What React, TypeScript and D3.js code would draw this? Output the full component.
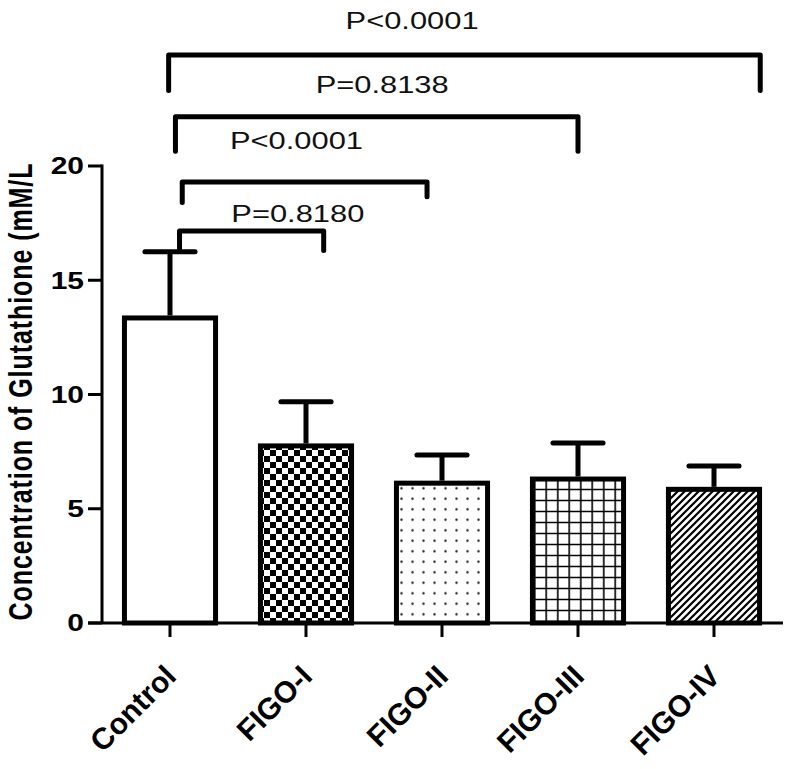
import React from 'react';
import * as d3 from 'd3';

const categories = ['Control', 'FIGO-I', 'FIGO-II', 'FIGO-III', 'FIGO-IV'];
const means = [13.35, 7.75, 6.12, 6.3, 5.85];
const sds = [2.9, 1.93, 1.23, 1.58, 1.02];
const fills = ['white', 'url(#checker)', 'url(#dots)', 'url(#grid)', 'url(#hatch)'];
const yTicks = [0, 5, 10, 15, 20];
const yLabel = 'Concentration of Glutathione (mM/L';

// significance brackets (category index + offset in band steps, levels in data units)
const bracketFrom = [0, 0, 0, 0];
const bracketTo = [1, 2, 3, 4];
const bracketFromOffset = [0.07, 0.09, 0.04, -0.01];
const bracketToOffset = [0.13, -0.11, 0, 0.34];
const bracketLevel = [17.15, 19.3, 22.15, 24.86];
const bracketDropFrom = [16.4, 18.4, 20.65, 23.3];
const bracketDropTo = [16.3, 18.65, 20.65, 23.3];
const bracketLabels = ['P=0.8180', 'P<0.0001', 'P=0.8138', 'P<0.0001'];
const bracketLabelPos = [0.94, 0.93, 1.56, 1.78];
const bracketLabelLevel = [17.9, 21.12, 23.54, 26.35];

const W = 791;
const H = 769;

export default function App() {
  const x = d3.scaleBand<string>().domain(categories).range([102, 782]).paddingInner(0.33).paddingOuter(0.165);
  const y = d3.scaleLinear().domain([0, 20]).range([623, 166]);
  const step = x.step();
  const bw = x.bandwidth();
  const cx = (i: number) => (x(categories[i]) as number) + bw / 2;
  const fx = (v: number) => cx(0) + v * step;
  const font = '"Liberation Sans", Arial, sans-serif';

  return (
    <svg width={W} height={H} style={{ position: 'absolute', left: 0, top: 0, background: 'white' }} fontFamily={font}>
      <defs>
        <pattern id="checker" width={12} height={12} patternUnits="userSpaceOnUse">
          <rect width={12} height={12} fill="white" />
          <rect x={0} y={0} width={6} height={6} fill="black" />
          <rect x={6} y={6} width={6} height={6} fill="black" />
        </pattern>
        <pattern id="dots" width={11} height={10.5} patternUnits="userSpaceOnUse">
          <rect width={11} height={10.5} fill="white" />
          <circle cx={5.5} cy={5.25} r={1.2} fill="#222" />
        </pattern>
        <pattern id="grid" width={11.5} height={11} patternUnits="userSpaceOnUse">
          <rect width={11.5} height={11} fill="white" />
          <path d="M5.75,0 V11 M0,5.5 H11.5" stroke="black" strokeWidth={1.6} />
        </pattern>
        <pattern id="hatch" width={7} height={7} patternUnits="userSpaceOnUse">
          <rect width={7} height={7} fill="white" />
          <path d="M-1,1 L1,-1 M0,7 L7,0 M6,8 L8,6" stroke="black" strokeWidth={2.2} />
        </pattern>
      </defs>

      {/* bars */}
      {categories.map((c, i) => (
        <rect key={c} x={x(c)} y={y(means[i])} width={bw} height={y(0) - y(means[i])}
          fill={fills[i]} stroke="black" strokeWidth={5} />
      ))}

      {/* error bars */}
      {categories.map((c, i) => (
        <g key={'e' + c} stroke="black" strokeWidth={5} strokeLinecap="round">
          <line x1={cx(i)} x2={cx(i)} y1={y(means[i]) - 2.5} y2={y(means[i] + sds[i])} strokeLinecap="butt" />
          <line x1={cx(i) - bw * 0.275} x2={cx(i) + bw * 0.275} y1={y(means[i] + sds[i])} y2={y(means[i] + sds[i])} />
        </g>
      ))}

      {/* axes */}
      <line x1={88} x2={783} y1={y(0)} y2={y(0)} stroke="black" strokeWidth={3} />
      <line x1={102} x2={102} y1={y(0)} y2={y(20) - 1.5} stroke="black" strokeWidth={3} />
      {yTicks.map(t => (
        <g key={t}>
          <line x1={88} x2={102} y1={y(t)} y2={y(t)} stroke="black" strokeWidth={3} />
          <text transform={`translate(84,${y(t)}) scale(1.25,1)`} textAnchor="end" dominantBaseline="central"
            fontWeight="bold" fontSize={24}>{t}</text>
        </g>
      ))}
      {categories.map((c, i) => (
        <g key={'t' + c}>
          <line x1={cx(i)} x2={cx(i)} y1={y(0)} y2={y(0) + 14} stroke="black" strokeWidth={3} />
          <text transform={`translate(${cx(i) + 8},678) rotate(-45)`} textAnchor="end"
            fontWeight="bold" fontSize={30}>{c}</text>
        </g>
      ))}
      <text transform={`translate(20,392) scale(1.35,1) rotate(-90)`} textAnchor="middle" dominantBaseline="central"
        fontWeight="bold" fontSize={25} textLength={457} lengthAdjust="spacing">{yLabel}</text>

      {/* brackets */}
      {bracketLabels.map((lab, k) => {
        const x1 = fx(bracketFrom[k] + bracketFromOffset[k]);
        const x2 = fx(bracketTo[k] + bracketToOffset[k]);
        const yl = y(bracketLevel[k]);
        return (
          <g key={'b' + k}>
            <path d={`M${x1},${y(bracketDropFrom[k])} L${x1},${yl} L${x2},${yl} L${x2},${y(bracketDropTo[k])}`}
              fill="none" stroke="black" strokeWidth={5} strokeLinecap="round" strokeLinejoin="round" />
            <text transform={`translate(${fx(bracketLabelPos[k])},${y(bracketLabelLevel[k])}) scale(1.26,1)`}
              textAnchor="middle" dominantBaseline="central" fontSize={24.5} fill="#111">{lab}</text>
          </g>
        );
      })}
    </svg>
  );
}
